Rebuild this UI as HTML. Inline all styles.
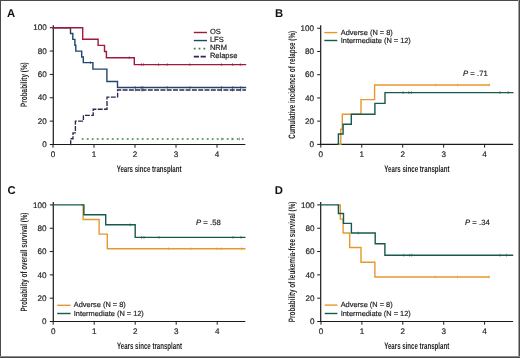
<!DOCTYPE html>
<html><head><meta charset="utf-8"><style>
html,body{margin:0;padding:0;background:#fff;}
body{width:520px;height:358px;overflow:hidden;position:relative;}
svg{position:absolute;left:0;top:0;font-family:"Liberation Sans", sans-serif;will-change:transform;text-rendering:geometricPrecision;}
.b{position:absolute;background:#4a4a4a;}
</style></head><body>
<svg width="520" height="358" viewBox="0 0 520 358">
<rect x="0" y="0" width="520" height="358" fill="#fff"/>
<text x="6.90" y="16.50" font-size="11.3" text-anchor="start" fill="#111" stroke="#111" stroke-width="0" font-weight="bold" >A</text>
<line x1="53.30" y1="25.20" x2="53.30" y2="145.10" stroke="#1a1a1a" stroke-width="1.2" />
<line x1="52.70" y1="144.50" x2="245.30" y2="144.50" stroke="#1a1a1a" stroke-width="1.2" />
<line x1="49.80" y1="144.50" x2="53.00" y2="144.50" stroke="#1a1a1a" stroke-width="1.0" />
<text x="46.80" y="147.20" font-size="8.1" text-anchor="end" fill="#262626" stroke="#262626" stroke-width="0.2" font-weight="normal" >0</text>
<line x1="49.80" y1="121.14" x2="53.00" y2="121.14" stroke="#1a1a1a" stroke-width="1.0" />
<text x="46.80" y="123.84" font-size="8.1" text-anchor="end" fill="#262626" stroke="#262626" stroke-width="0.2" font-weight="normal" >20</text>
<line x1="49.80" y1="97.78" x2="53.00" y2="97.78" stroke="#1a1a1a" stroke-width="1.0" />
<text x="46.80" y="100.48" font-size="8.1" text-anchor="end" fill="#262626" stroke="#262626" stroke-width="0.2" font-weight="normal" >40</text>
<line x1="49.80" y1="74.42" x2="53.00" y2="74.42" stroke="#1a1a1a" stroke-width="1.0" />
<text x="46.80" y="77.12" font-size="8.1" text-anchor="end" fill="#262626" stroke="#262626" stroke-width="0.2" font-weight="normal" >60</text>
<line x1="49.80" y1="51.06" x2="53.00" y2="51.06" stroke="#1a1a1a" stroke-width="1.0" />
<text x="46.80" y="53.76" font-size="8.1" text-anchor="end" fill="#262626" stroke="#262626" stroke-width="0.2" font-weight="normal" >80</text>
<line x1="49.80" y1="27.70" x2="53.00" y2="27.70" stroke="#1a1a1a" stroke-width="1.0" />
<text x="46.80" y="30.40" font-size="8.1" text-anchor="end" fill="#262626" stroke="#262626" stroke-width="0.2" font-weight="normal" >100</text>
<line x1="53.00" y1="144.50" x2="53.00" y2="147.70" stroke="#1a1a1a" stroke-width="1.0" />
<text x="53.00" y="157.20" font-size="8.1" text-anchor="middle" fill="#262626" stroke="#262626" stroke-width="0.2" font-weight="normal" >0</text>
<line x1="94.00" y1="144.50" x2="94.00" y2="147.70" stroke="#1a1a1a" stroke-width="1.0" />
<text x="94.00" y="157.20" font-size="8.1" text-anchor="middle" fill="#262626" stroke="#262626" stroke-width="0.2" font-weight="normal" >1</text>
<line x1="135.00" y1="144.50" x2="135.00" y2="147.70" stroke="#1a1a1a" stroke-width="1.0" />
<text x="135.00" y="157.20" font-size="8.1" text-anchor="middle" fill="#262626" stroke="#262626" stroke-width="0.2" font-weight="normal" >2</text>
<line x1="176.00" y1="144.50" x2="176.00" y2="147.70" stroke="#1a1a1a" stroke-width="1.0" />
<text x="176.00" y="157.20" font-size="8.1" text-anchor="middle" fill="#262626" stroke="#262626" stroke-width="0.2" font-weight="normal" >3</text>
<line x1="217.00" y1="144.50" x2="217.00" y2="147.70" stroke="#1a1a1a" stroke-width="1.0" />
<text x="217.00" y="157.20" font-size="8.1" text-anchor="middle" fill="#262626" stroke="#262626" stroke-width="0.2" font-weight="normal" >4</text>
<text x="149.1" y="171.7" font-size="9.3" font-weight="bold" text-anchor="middle" fill="#262626" stroke="#262626" stroke-width="0" textLength="64.8" lengthAdjust="spacingAndGlyphs">Years since transplant</text>
<text transform="translate(26.8,84.6) rotate(-90)" x="0" y="0" font-size="9.3" font-weight="bold" text-anchor="middle" fill="#262626" stroke="#262626" stroke-width="0" textLength="44.6" lengthAdjust="spacingAndGlyphs">Probability (%)</text>
<path d="M81.8,139 L245,139" stroke="#3f853f" stroke-width="1.6" stroke-dasharray="1.8 3.2" fill="none"/>
<path d="M70.70,144.50 L70.70,144.50 L70.70,138.70 L73.00,138.70 L73.00,132.80 L75.40,132.80 L75.40,121.10 L83.40,121.10 L83.40,115.30 L93.20,115.30 L93.20,109.20 L107.00,109.20 L107.00,97.10 L117.60,97.10 L117.60,90.00 L245.30,90.00 L245.30,90.00" fill="none" stroke="#30254f" stroke-width="1.35" stroke-linejoin="miter" stroke-linecap="square" stroke-dasharray="3.6 2.7"/>
<path d="M53.00,27.70 L70.50,27.70 L70.50,33.50 L72.80,33.50 L72.80,39.40 L74.90,39.40 L74.90,45.30 L75.80,45.30 L75.80,51.10 L81.70,51.10 L81.70,57.00 L83.30,57.00 L83.30,62.60 L92.90,62.60 L92.90,69.10 L106.90,69.10 L106.90,81.50 L117.50,81.50 L117.50,87.50 L245.50,87.50 L245.50,87.50" fill="none" stroke="#21456f" stroke-width="1.4" stroke-linejoin="miter" stroke-linecap="square" />
<path d="M53.00,27.70 L82.70,27.70 L82.70,39.20 L98.10,39.20 L98.10,45.40 L104.50,45.40 L104.50,51.50 L106.40,51.50 L106.40,57.70 L134.30,57.70 L134.30,64.60 L245.50,64.60 L245.50,64.60" fill="none" stroke="#a0183a" stroke-width="1.4" stroke-linejoin="miter" stroke-linecap="square" />
<line x1="129.20" y1="56.30" x2="129.20" y2="59.10" stroke="#a0183a" stroke-width="0.6" />
<line x1="141.40" y1="63.20" x2="141.40" y2="66.00" stroke="#a0183a" stroke-width="0.6" />
<line x1="143.40" y1="63.20" x2="143.40" y2="66.00" stroke="#a0183a" stroke-width="0.6" />
<line x1="158.50" y1="63.20" x2="158.50" y2="66.00" stroke="#a0183a" stroke-width="0.6" />
<line x1="167.30" y1="63.20" x2="167.30" y2="66.00" stroke="#a0183a" stroke-width="0.6" />
<line x1="189.80" y1="63.20" x2="189.80" y2="66.00" stroke="#a0183a" stroke-width="0.6" />
<line x1="221.40" y1="63.20" x2="221.40" y2="66.00" stroke="#a0183a" stroke-width="0.6" />
<line x1="232.50" y1="63.20" x2="232.50" y2="66.00" stroke="#a0183a" stroke-width="0.6" />
<line x1="240.30" y1="63.20" x2="240.30" y2="66.00" stroke="#a0183a" stroke-width="0.6" />
<line x1="90.40" y1="61.20" x2="90.40" y2="64.00" stroke="#21456f" stroke-width="0.6" />
<line x1="135.30" y1="86.10" x2="135.30" y2="88.90" stroke="#21456f" stroke-width="0.6" />
<line x1="141.20" y1="86.10" x2="141.20" y2="88.90" stroke="#21456f" stroke-width="0.6" />
<line x1="142.90" y1="86.10" x2="142.90" y2="88.90" stroke="#21456f" stroke-width="0.6" />
<line x1="167.30" y1="86.10" x2="167.30" y2="88.90" stroke="#21456f" stroke-width="0.6" />
<line x1="189.90" y1="86.10" x2="189.90" y2="88.90" stroke="#21456f" stroke-width="0.6" />
<line x1="221.50" y1="86.10" x2="221.50" y2="88.90" stroke="#21456f" stroke-width="0.6" />
<line x1="232.60" y1="86.10" x2="232.60" y2="88.90" stroke="#21456f" stroke-width="0.6" />
<line x1="240.70" y1="86.10" x2="240.70" y2="88.90" stroke="#21456f" stroke-width="0.6" />
<line x1="135.30" y1="88.60" x2="135.30" y2="91.40" stroke="#30254f" stroke-width="0.6" />
<line x1="141.20" y1="88.60" x2="141.20" y2="91.40" stroke="#30254f" stroke-width="0.6" />
<line x1="142.90" y1="88.60" x2="142.90" y2="91.40" stroke="#30254f" stroke-width="0.6" />
<line x1="221.50" y1="88.60" x2="221.50" y2="91.40" stroke="#30254f" stroke-width="0.6" />
<line x1="232.60" y1="88.60" x2="232.60" y2="91.40" stroke="#30254f" stroke-width="0.6" />
<line x1="240.70" y1="88.60" x2="240.70" y2="91.40" stroke="#30254f" stroke-width="0.6" />
<line x1="221.40" y1="137.60" x2="221.40" y2="140.40" stroke="#3f853f" stroke-width="0.6" />
<line x1="232.00" y1="137.60" x2="232.00" y2="140.40" stroke="#3f853f" stroke-width="0.6" />
<line x1="239.50" y1="137.60" x2="239.50" y2="140.40" stroke="#3f853f" stroke-width="0.6" />
<line x1="193.8" y1="32.5" x2="207" y2="32.5" stroke="#a0183a" stroke-width="1.4" />
<text x="209.90" y="34.20" font-size="7.5" text-anchor="start" fill="#262626" stroke="#262626" stroke-width="0.2" font-weight="normal" >OS</text>
<line x1="193.8" y1="40.55" x2="207" y2="40.55" stroke="#21456f" stroke-width="1.4" />
<text x="209.90" y="42.25" font-size="7.5" text-anchor="start" fill="#262626" stroke="#262626" stroke-width="0.2" font-weight="normal" >LFS</text>
<line x1="193.8" y1="48.6" x2="207" y2="48.6" stroke="#3f853f" stroke-width="1.6" stroke-dasharray="1.8 3"/>
<text x="209.90" y="50.30" font-size="7.5" text-anchor="start" fill="#262626" stroke="#262626" stroke-width="0.2" font-weight="normal" >NRM</text>
<line x1="193.8" y1="56.650000000000006" x2="207" y2="56.650000000000006" stroke="#30254f" stroke-width="1.6" stroke-dasharray="5.2 1.6"/>
<text x="209.90" y="58.35" font-size="7.5" text-anchor="start" fill="#262626" stroke="#262626" stroke-width="0.2" font-weight="normal" >Relapse</text>
<text x="275.00" y="16.50" font-size="11.3" text-anchor="start" fill="#111" stroke="#111" stroke-width="0" font-weight="bold" >B</text>
<line x1="320.70" y1="25.20" x2="320.70" y2="145.00" stroke="#1a1a1a" stroke-width="1.2" />
<line x1="320.10" y1="144.40" x2="513.10" y2="144.40" stroke="#1a1a1a" stroke-width="1.2" />
<line x1="317.20" y1="144.40" x2="320.40" y2="144.40" stroke="#1a1a1a" stroke-width="1.0" />
<text x="314.00" y="147.10" font-size="8.1" text-anchor="end" fill="#262626" stroke="#262626" stroke-width="0.2" font-weight="normal" >0</text>
<line x1="317.20" y1="121.17" x2="320.40" y2="121.17" stroke="#1a1a1a" stroke-width="1.0" />
<text x="314.00" y="123.87" font-size="8.1" text-anchor="end" fill="#262626" stroke="#262626" stroke-width="0.2" font-weight="normal" >20</text>
<line x1="317.20" y1="97.94" x2="320.40" y2="97.94" stroke="#1a1a1a" stroke-width="1.0" />
<text x="314.00" y="100.64" font-size="8.1" text-anchor="end" fill="#262626" stroke="#262626" stroke-width="0.2" font-weight="normal" >40</text>
<line x1="317.20" y1="74.71" x2="320.40" y2="74.71" stroke="#1a1a1a" stroke-width="1.0" />
<text x="314.00" y="77.41" font-size="8.1" text-anchor="end" fill="#262626" stroke="#262626" stroke-width="0.2" font-weight="normal" >60</text>
<line x1="317.20" y1="51.48" x2="320.40" y2="51.48" stroke="#1a1a1a" stroke-width="1.0" />
<text x="314.00" y="54.18" font-size="8.1" text-anchor="end" fill="#262626" stroke="#262626" stroke-width="0.2" font-weight="normal" >80</text>
<line x1="317.20" y1="28.25" x2="320.40" y2="28.25" stroke="#1a1a1a" stroke-width="1.0" />
<text x="314.00" y="30.95" font-size="8.1" text-anchor="end" fill="#262626" stroke="#262626" stroke-width="0.2" font-weight="normal" >100</text>
<line x1="320.80" y1="144.40" x2="320.80" y2="147.60" stroke="#1a1a1a" stroke-width="1.0" />
<text x="320.80" y="157.20" font-size="8.1" text-anchor="middle" fill="#262626" stroke="#262626" stroke-width="0.2" font-weight="normal" >0</text>
<line x1="361.75" y1="144.40" x2="361.75" y2="147.60" stroke="#1a1a1a" stroke-width="1.0" />
<text x="361.75" y="157.20" font-size="8.1" text-anchor="middle" fill="#262626" stroke="#262626" stroke-width="0.2" font-weight="normal" >1</text>
<line x1="402.70" y1="144.40" x2="402.70" y2="147.60" stroke="#1a1a1a" stroke-width="1.0" />
<text x="402.70" y="157.20" font-size="8.1" text-anchor="middle" fill="#262626" stroke="#262626" stroke-width="0.2" font-weight="normal" >2</text>
<line x1="443.65" y1="144.40" x2="443.65" y2="147.60" stroke="#1a1a1a" stroke-width="1.0" />
<text x="443.65" y="157.20" font-size="8.1" text-anchor="middle" fill="#262626" stroke="#262626" stroke-width="0.2" font-weight="normal" >3</text>
<line x1="484.60" y1="144.40" x2="484.60" y2="147.60" stroke="#1a1a1a" stroke-width="1.0" />
<text x="484.60" y="157.20" font-size="8.1" text-anchor="middle" fill="#262626" stroke="#262626" stroke-width="0.2" font-weight="normal" >4</text>
<text x="416.9" y="171.7" font-size="9.3" font-weight="bold" text-anchor="middle" fill="#262626" stroke="#262626" stroke-width="0" textLength="65.2" lengthAdjust="spacingAndGlyphs">Years since transplant</text>
<text transform="translate(294.9,84.75) rotate(-90)" x="0" y="0" font-size="9.3" font-weight="bold" text-anchor="middle" fill="#262626" stroke="#262626" stroke-width="0" textLength="107.8" lengthAdjust="spacingAndGlyphs">Cumulative incidence of relapse (%)</text>
<path d="M338.40,144.40 L340.80,144.40 L340.80,129.20 L342.30,129.20 L342.30,114.30 L361.00,114.30 L361.00,99.60 L374.60,99.60 L374.60,85.00 L489.30,85.00 L489.30,85.00" fill="none" stroke="#e6982e" stroke-width="1.4" stroke-linejoin="miter" stroke-linecap="square" />
<path d="M338.00,144.40 L338.40,144.40 L338.40,134.00 L343.10,134.00 L343.10,124.20 L351.30,124.20 L351.30,114.30 L374.90,114.30 L374.90,103.40 L385.00,103.40 L385.00,92.60 L512.80,92.60 L512.80,92.60" fill="none" stroke="#165a4e" stroke-width="1.4" stroke-linejoin="miter" stroke-linecap="square" />
<line x1="435.60" y1="83.60" x2="435.60" y2="86.40" stroke="#e6982e" stroke-width="0.6" />
<line x1="457.60" y1="83.60" x2="457.60" y2="86.40" stroke="#e6982e" stroke-width="0.6" />
<line x1="489.30" y1="83.60" x2="489.30" y2="86.40" stroke="#e6982e" stroke-width="0.6" />
<line x1="403.10" y1="91.20" x2="403.10" y2="94.00" stroke="#165a4e" stroke-width="0.6" />
<line x1="408.80" y1="91.20" x2="408.80" y2="94.00" stroke="#165a4e" stroke-width="0.6" />
<line x1="411.30" y1="91.20" x2="411.30" y2="94.00" stroke="#165a4e" stroke-width="0.6" />
<line x1="500.00" y1="91.20" x2="500.00" y2="94.00" stroke="#165a4e" stroke-width="0.6" />
<line x1="508.20" y1="91.20" x2="508.20" y2="94.00" stroke="#165a4e" stroke-width="0.6" />
<line x1="324.30" y1="32.60" x2="337.30" y2="32.60" stroke="#e6982e" stroke-width="1.4" />
<line x1="324.30" y1="40.50" x2="337.30" y2="40.50" stroke="#165a4e" stroke-width="1.4" />
<text x="340.80" y="34.90" font-size="7.4" text-anchor="start" fill="#262626" stroke="#262626" stroke-width="0.2" font-weight="normal" >Adverse (N = 8)</text>
<text x="340.80" y="42.70" font-size="7.4" text-anchor="start" fill="#262626" stroke="#262626" stroke-width="0.2" font-weight="normal" >Intermediate (N = 12)</text>
<text x="463.1" y="76.1" font-size="7.7" fill="#262626" stroke="#262626" stroke-width="0.2"><tspan font-style="italic">P</tspan> = .71</text>
<text x="7.40" y="193.90" font-size="11.3" text-anchor="start" fill="#111" stroke="#111" stroke-width="0" font-weight="bold" >C</text>
<line x1="53.30" y1="202.10" x2="53.30" y2="322.10" stroke="#1a1a1a" stroke-width="1.2" />
<line x1="52.70" y1="321.50" x2="245.30" y2="321.50" stroke="#1a1a1a" stroke-width="1.2" />
<line x1="49.80" y1="321.50" x2="53.00" y2="321.50" stroke="#1a1a1a" stroke-width="1.0" />
<text x="46.60" y="324.20" font-size="8.1" text-anchor="end" fill="#262626" stroke="#262626" stroke-width="0.2" font-weight="normal" >0</text>
<line x1="49.80" y1="298.18" x2="53.00" y2="298.18" stroke="#1a1a1a" stroke-width="1.0" />
<text x="46.60" y="300.88" font-size="8.1" text-anchor="end" fill="#262626" stroke="#262626" stroke-width="0.2" font-weight="normal" >20</text>
<line x1="49.80" y1="274.86" x2="53.00" y2="274.86" stroke="#1a1a1a" stroke-width="1.0" />
<text x="46.60" y="277.56" font-size="8.1" text-anchor="end" fill="#262626" stroke="#262626" stroke-width="0.2" font-weight="normal" >40</text>
<line x1="49.80" y1="251.54" x2="53.00" y2="251.54" stroke="#1a1a1a" stroke-width="1.0" />
<text x="46.60" y="254.24" font-size="8.1" text-anchor="end" fill="#262626" stroke="#262626" stroke-width="0.2" font-weight="normal" >60</text>
<line x1="49.80" y1="228.22" x2="53.00" y2="228.22" stroke="#1a1a1a" stroke-width="1.0" />
<text x="46.60" y="230.92" font-size="8.1" text-anchor="end" fill="#262626" stroke="#262626" stroke-width="0.2" font-weight="normal" >80</text>
<line x1="49.80" y1="204.90" x2="53.00" y2="204.90" stroke="#1a1a1a" stroke-width="1.0" />
<text x="46.60" y="207.60" font-size="8.1" text-anchor="end" fill="#262626" stroke="#262626" stroke-width="0.2" font-weight="normal" >100</text>
<line x1="53.20" y1="321.50" x2="53.20" y2="324.70" stroke="#1a1a1a" stroke-width="1.0" />
<text x="53.20" y="334.20" font-size="8.1" text-anchor="middle" fill="#262626" stroke="#262626" stroke-width="0.2" font-weight="normal" >0</text>
<line x1="94.20" y1="321.50" x2="94.20" y2="324.70" stroke="#1a1a1a" stroke-width="1.0" />
<text x="94.20" y="334.20" font-size="8.1" text-anchor="middle" fill="#262626" stroke="#262626" stroke-width="0.2" font-weight="normal" >1</text>
<line x1="135.20" y1="321.50" x2="135.20" y2="324.70" stroke="#1a1a1a" stroke-width="1.0" />
<text x="135.20" y="334.20" font-size="8.1" text-anchor="middle" fill="#262626" stroke="#262626" stroke-width="0.2" font-weight="normal" >2</text>
<line x1="176.20" y1="321.50" x2="176.20" y2="324.70" stroke="#1a1a1a" stroke-width="1.0" />
<text x="176.20" y="334.20" font-size="8.1" text-anchor="middle" fill="#262626" stroke="#262626" stroke-width="0.2" font-weight="normal" >3</text>
<line x1="217.20" y1="321.50" x2="217.20" y2="324.70" stroke="#1a1a1a" stroke-width="1.0" />
<text x="217.20" y="334.20" font-size="8.1" text-anchor="middle" fill="#262626" stroke="#262626" stroke-width="0.2" font-weight="normal" >4</text>
<text x="149.5" y="348.9" font-size="9.3" font-weight="bold" text-anchor="middle" fill="#262626" stroke="#262626" stroke-width="0" textLength="65.0" lengthAdjust="spacingAndGlyphs">Years since transplant</text>
<text transform="translate(26.9,262.1) rotate(-90)" x="0" y="0" font-size="9.3" font-weight="bold" text-anchor="middle" fill="#262626" stroke="#262626" stroke-width="0" textLength="99.0" lengthAdjust="spacingAndGlyphs">Probability of overall survival (%)</text>
<path d="M82.00,204.90 L83.10,204.90 L83.10,219.50 L99.10,219.50 L99.10,234.10 L107.30,234.10 L107.30,248.70 L244.80,248.70 L244.80,248.70" fill="none" stroke="#e6982e" stroke-width="1.4" stroke-linejoin="miter" stroke-linecap="square" />
<path d="M53.20,204.90 L83.90,204.90 L83.90,214.70 L105.70,214.70 L105.70,224.80 L135.20,224.80 L135.20,237.40 L244.80,237.40 L244.80,237.40" fill="none" stroke="#165a4e" stroke-width="1.4" stroke-linejoin="miter" stroke-linecap="square" />
<line x1="168.60" y1="247.30" x2="168.60" y2="250.10" stroke="#e6982e" stroke-width="0.6" />
<line x1="190.80" y1="247.30" x2="190.80" y2="250.10" stroke="#e6982e" stroke-width="0.6" />
<line x1="217.20" y1="247.30" x2="217.20" y2="250.10" stroke="#e6982e" stroke-width="0.6" />
<line x1="221.40" y1="247.30" x2="221.40" y2="250.10" stroke="#e6982e" stroke-width="0.6" />
<line x1="241.50" y1="247.30" x2="241.50" y2="250.10" stroke="#e6982e" stroke-width="0.6" />
<line x1="141.60" y1="236.00" x2="141.60" y2="238.80" stroke="#165a4e" stroke-width="0.6" />
<line x1="144.00" y1="236.00" x2="144.00" y2="238.80" stroke="#165a4e" stroke-width="0.6" />
<line x1="159.00" y1="236.00" x2="159.00" y2="238.80" stroke="#165a4e" stroke-width="0.6" />
<line x1="233.00" y1="236.00" x2="233.00" y2="238.80" stroke="#165a4e" stroke-width="0.6" />
<line x1="241.00" y1="236.00" x2="241.00" y2="238.80" stroke="#165a4e" stroke-width="0.6" />
<line x1="130.20" y1="223.40" x2="130.20" y2="226.20" stroke="#165a4e" stroke-width="0.6" />
<line x1="57.20" y1="305.30" x2="70.60" y2="305.30" stroke="#e6982e" stroke-width="1.4" />
<line x1="57.20" y1="313.50" x2="70.60" y2="313.50" stroke="#165a4e" stroke-width="1.4" />
<text x="73.80" y="307.20" font-size="7.4" text-anchor="start" fill="#262626" stroke="#262626" stroke-width="0.2" font-weight="normal" >Adverse (N = 8)</text>
<text x="73.80" y="315.70" font-size="7.4" text-anchor="start" fill="#262626" stroke="#262626" stroke-width="0.2" font-weight="normal" >Intermediate (N = 12)</text>
<text x="196.1" y="225.3" font-size="7.7" fill="#262626" stroke="#262626" stroke-width="0.2"><tspan font-style="italic">P</tspan> = .58</text>
<text x="274.70" y="193.90" font-size="11.3" text-anchor="start" fill="#111" stroke="#111" stroke-width="0" font-weight="bold" >D</text>
<line x1="320.70" y1="202.10" x2="320.70" y2="322.10" stroke="#1a1a1a" stroke-width="1.2" />
<line x1="320.10" y1="321.50" x2="513.10" y2="321.50" stroke="#1a1a1a" stroke-width="1.2" />
<line x1="317.20" y1="321.50" x2="320.40" y2="321.50" stroke="#1a1a1a" stroke-width="1.0" />
<text x="314.40" y="324.20" font-size="8.1" text-anchor="end" fill="#262626" stroke="#262626" stroke-width="0.2" font-weight="normal" >0</text>
<line x1="317.20" y1="298.18" x2="320.40" y2="298.18" stroke="#1a1a1a" stroke-width="1.0" />
<text x="314.40" y="300.88" font-size="8.1" text-anchor="end" fill="#262626" stroke="#262626" stroke-width="0.2" font-weight="normal" >20</text>
<line x1="317.20" y1="274.86" x2="320.40" y2="274.86" stroke="#1a1a1a" stroke-width="1.0" />
<text x="314.40" y="277.56" font-size="8.1" text-anchor="end" fill="#262626" stroke="#262626" stroke-width="0.2" font-weight="normal" >40</text>
<line x1="317.20" y1="251.54" x2="320.40" y2="251.54" stroke="#1a1a1a" stroke-width="1.0" />
<text x="314.40" y="254.24" font-size="8.1" text-anchor="end" fill="#262626" stroke="#262626" stroke-width="0.2" font-weight="normal" >60</text>
<line x1="317.20" y1="228.22" x2="320.40" y2="228.22" stroke="#1a1a1a" stroke-width="1.0" />
<text x="314.40" y="230.92" font-size="8.1" text-anchor="end" fill="#262626" stroke="#262626" stroke-width="0.2" font-weight="normal" >80</text>
<line x1="317.20" y1="204.90" x2="320.40" y2="204.90" stroke="#1a1a1a" stroke-width="1.0" />
<text x="314.40" y="207.60" font-size="8.1" text-anchor="end" fill="#262626" stroke="#262626" stroke-width="0.2" font-weight="normal" >100</text>
<line x1="321.00" y1="321.50" x2="321.00" y2="324.70" stroke="#1a1a1a" stroke-width="1.0" />
<text x="321.00" y="334.20" font-size="8.1" text-anchor="middle" fill="#262626" stroke="#262626" stroke-width="0.2" font-weight="normal" >0</text>
<line x1="361.90" y1="321.50" x2="361.90" y2="324.70" stroke="#1a1a1a" stroke-width="1.0" />
<text x="361.90" y="334.20" font-size="8.1" text-anchor="middle" fill="#262626" stroke="#262626" stroke-width="0.2" font-weight="normal" >1</text>
<line x1="402.80" y1="321.50" x2="402.80" y2="324.70" stroke="#1a1a1a" stroke-width="1.0" />
<text x="402.80" y="334.20" font-size="8.1" text-anchor="middle" fill="#262626" stroke="#262626" stroke-width="0.2" font-weight="normal" >2</text>
<line x1="443.70" y1="321.50" x2="443.70" y2="324.70" stroke="#1a1a1a" stroke-width="1.0" />
<text x="443.70" y="334.20" font-size="8.1" text-anchor="middle" fill="#262626" stroke="#262626" stroke-width="0.2" font-weight="normal" >3</text>
<line x1="484.60" y1="321.50" x2="484.60" y2="324.70" stroke="#1a1a1a" stroke-width="1.0" />
<text x="484.60" y="334.20" font-size="8.1" text-anchor="middle" fill="#262626" stroke="#262626" stroke-width="0.2" font-weight="normal" >4</text>
<text x="416.7" y="348.9" font-size="9.3" font-weight="bold" text-anchor="middle" fill="#262626" stroke="#262626" stroke-width="0" textLength="65.0" lengthAdjust="spacingAndGlyphs">Years since transplant</text>
<text transform="translate(294.9,261.9) rotate(-90)" x="0" y="0" font-size="9.3" font-weight="bold" text-anchor="middle" fill="#262626" stroke="#262626" stroke-width="0" textLength="120.6" lengthAdjust="spacingAndGlyphs">Probability of leukemia-free survival (%)</text>
<path d="M338.40,204.90 L340.30,204.90 L340.30,219.10 L343.10,219.10 L343.10,233.00 L349.70,233.00 L349.70,247.50 L361.00,247.50 L361.00,262.20 L374.90,262.20 L374.90,277.00 L489.00,277.00 L489.00,277.00" fill="none" stroke="#e6982e" stroke-width="1.4" stroke-linejoin="miter" stroke-linecap="square" />
<path d="M321.00,204.90 L338.40,204.90 L338.40,213.50 L343.50,213.50 L343.50,223.40 L351.40,223.40 L351.40,233.00 L375.20,233.00 L375.20,243.80 L384.90,243.80 L384.90,255.20 L512.50,255.20 L512.50,255.20" fill="none" stroke="#165a4e" stroke-width="1.4" stroke-linejoin="miter" stroke-linecap="square" />
<line x1="435.20" y1="275.60" x2="435.20" y2="278.40" stroke="#e6982e" stroke-width="0.6" />
<line x1="457.50" y1="275.60" x2="457.50" y2="278.40" stroke="#e6982e" stroke-width="0.6" />
<line x1="489.00" y1="275.60" x2="489.00" y2="278.40" stroke="#e6982e" stroke-width="0.6" />
<line x1="358.20" y1="231.60" x2="358.20" y2="234.40" stroke="#165a4e" stroke-width="0.6" />
<line x1="403.70" y1="253.80" x2="403.70" y2="256.60" stroke="#165a4e" stroke-width="0.6" />
<line x1="409.60" y1="253.80" x2="409.60" y2="256.60" stroke="#165a4e" stroke-width="0.6" />
<line x1="411.80" y1="253.80" x2="411.80" y2="256.60" stroke="#165a4e" stroke-width="0.6" />
<line x1="499.80" y1="253.80" x2="499.80" y2="256.60" stroke="#165a4e" stroke-width="0.6" />
<line x1="506.50" y1="253.80" x2="506.50" y2="256.60" stroke="#165a4e" stroke-width="0.6" />
<line x1="324.70" y1="305.10" x2="337.40" y2="305.10" stroke="#e6982e" stroke-width="1.4" />
<line x1="324.70" y1="313.50" x2="337.40" y2="313.50" stroke="#165a4e" stroke-width="1.4" />
<text x="340.70" y="307.20" font-size="7.4" text-anchor="start" fill="#262626" stroke="#262626" stroke-width="0.2" font-weight="normal" >Adverse (N = 8)</text>
<text x="340.70" y="315.70" font-size="7.4" text-anchor="start" fill="#262626" stroke="#262626" stroke-width="0.2" font-weight="normal" >Intermediate (N = 12)</text>
<text x="465.1" y="225.0" font-size="7.7" fill="#262626" stroke="#262626" stroke-width="0.2"><tspan font-style="italic">P</tspan> = .34</text>
</svg>
<div class="b" style="left:0;top:0;width:520px;height:1px"></div>
<div class="b" style="left:0;top:0;width:1px;height:358px"></div>
<div class="b" style="left:519px;top:0;width:1px;height:358px"></div>
<div class="b" style="left:518px;top:0;width:1px;height:358px;background:#a0a0a0"></div>
<div class="b" style="left:0;top:357px;width:520px;height:1px"></div>
<div class="b" style="left:0;top:356px;width:520px;height:1px;background:#8a8a8a"></div>
</body></html>
